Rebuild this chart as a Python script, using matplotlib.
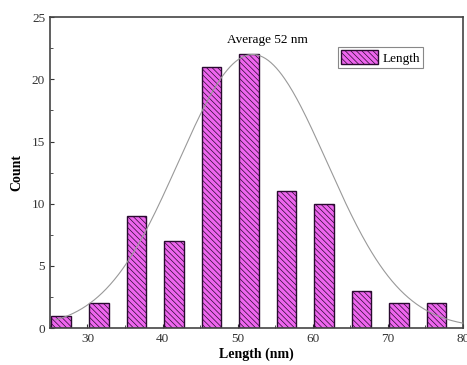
import numpy as np
import matplotlib.pyplot as plt

# data
bin_left = [25.2, 30.2, 35.2, 40.2, 45.2, 50.2, 55.2, 60.2, 65.2, 70.2, 75.2]
counts = [1, 2, 9, 7, 21, 22, 11, 10, 3, 2, 2]
x_ticks = [30, 40, 50, 60, 70, 80]
y_ticks = [0, 5, 10, 15, 20, 25]

# gaussian fit parameters (estimated from the drawn curve)
fit_center = 52.0
fit_sigma = 9.9
fit_peak = 22.0

plt.rcParams['font.family'] = ['Liberation Serif', 'DejaVu Serif']
plt.rcParams['hatch.linewidth'] = 0.5
plt.rcParams['hatch.color'] = '#7a2a80'

fig = plt.figure(figsize=(4.67, 3.65), dpi=100)
ax = fig.add_axes([0.107, 0.101, 0.884, 0.852])

ax.bar(bin_left, counts, width=2.6, align='edge', color='#ee66ee',
       edgecolor='#2a0a30', linewidth=1.0, hatch='\\' * 6, label='Length',
       zorder=2)

# fitted curve
xs = np.linspace(25.8, 80, 300)
ax.plot(xs, fit_peak * np.exp(-(xs - fit_center) ** 2 / (2 * fit_sigma ** 2)),
        color='#999999', linewidth=0.8, zorder=3)

ax.text(54, 23.2, 'Average 52 nm', ha='center', va='center', fontsize=9.5)

ax.set_xlim(25, 80)
ax.set_ylim(0, 25)
ax.set_xticks(x_ticks)
ax.set_yticks(y_ticks)
ax.set_xticks([25, 35, 45, 55, 65, 75], minor=True)
ax.set_yticks([2.5, 7.5, 12.5, 17.5, 22.5], minor=True)
ax.tick_params(which='both', direction='in', labelsize=9.5, colors='#333333',
               top=False, right=False)
ax.tick_params(which='major', length=3)
ax.tick_params(which='minor', length=2)

for s in ax.spines.values():
    s.set_color('#444444')
    s.set_linewidth(1.2)

ax.set_xlabel('Length (nm)', fontsize=10, fontweight='bold', labelpad=2)
ax.set_ylabel('Count', fontsize=10, fontweight='bold', labelpad=6)

leg = ax.legend(loc='upper right', bbox_to_anchor=(0.92, 0.925), fontsize=9.5,
                fancybox=False, framealpha=1, edgecolor='#888888',
                handlelength=2.8, handleheight=1.2, borderpad=0.25,
                handletextpad=0.3)
leg.get_frame().set_linewidth(0.8)

fig.savefig('out.png', dpi=100)
